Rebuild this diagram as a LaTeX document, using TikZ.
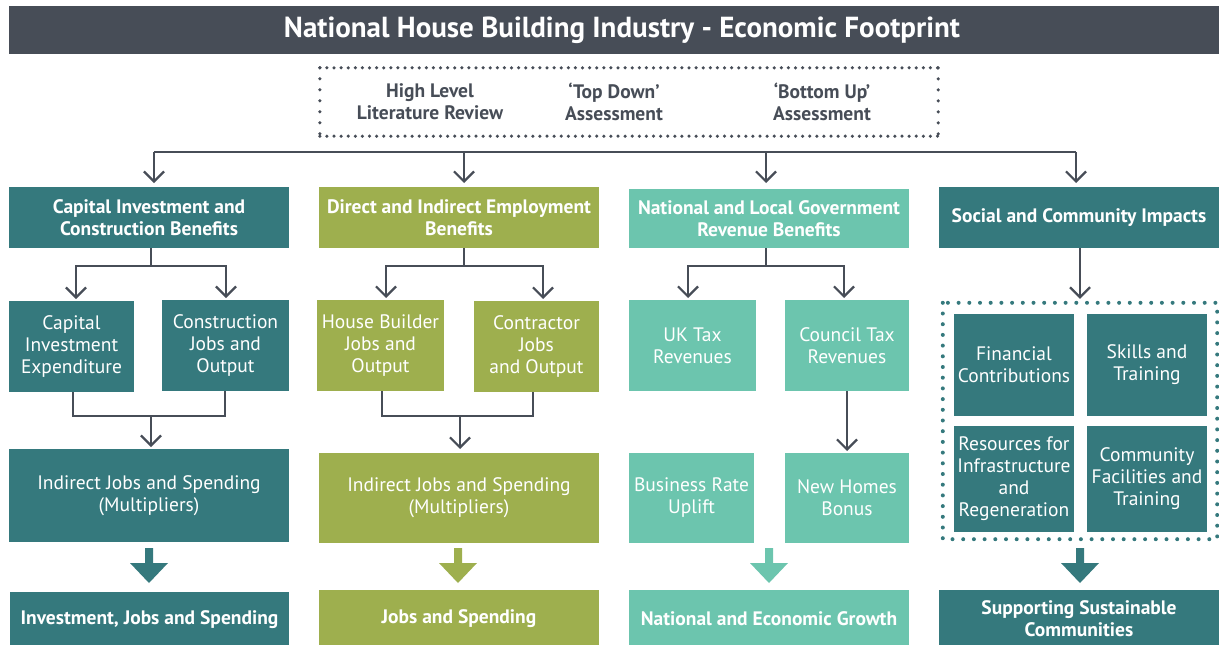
\documentclass[tikz,border=0pt]{standalone}
\usepackage{fontspec}
\setmainfont{PT Sans}
\usetikzlibrary{arrows.meta,calc}
\definecolor{cteal}{HTML}{35797D}
\definecolor{colive}{HTML}{9EAF4E}
\definecolor{cmint}{HTML}{6CC5AE}
\definecolor{cdark}{HTML}{474D57}
\newcommand\blockarrow[2]{\fill[#2] (#1-4,548) -- (#1+4,548) -- (#1+4,563) -- (#1+19,563) -- (#1,583) -- (#1-19,563) -- (#1-4,563) -- cycle;}
\begin{document}
\begin{tikzpicture}[x=1pt,y=-1pt,
  box/.style={inner sep=0pt, outer sep=0pt, align=center, text=white, font=\fontsize{19.5}{22}\selectfont},
  head/.style={box, font=\bfseries\fontsize{19.5}{22}\selectfont},
  srctext/.style={inner sep=0pt, align=center, text=cdark, font=\bfseries\fontsize{19.5}{22}\selectfont},
  conn/.style={draw=cdark, line width=2.2pt},
  arr/.style={conn, -{Straight Barb[length=10pt,width=20pt]}, shorten >=2pt},
  dotgray/.style={draw=cdark, line width=3.5pt, line cap=round},
  dotteal/.style={draw=cteal, line width=4pt, line cap=round, dash pattern=on 0pt off 10.7pt}
]
\useasboundingbox (0,0) rectangle (1219,645);

% title
\node[box, fill=cdark, minimum width=1226, minimum height=48, font=\bfseries\fontsize{29}{32}\selectfont] (title) at (622,30) {National House Building Industry - Economic Footprint};

% top dotted source box
\node[minimum width=618, minimum height=68, inner sep=0pt] (src) at (629,102) {};
\draw[dotgray, dash pattern=on 0pt off 7.1pt] (src.north west) -- (src.north east);
\draw[dotgray, dash pattern=on 0pt off 7.1pt] (src.south west) -- (src.south east);
\draw[dotgray, dash pattern=on 0pt off 11pt] (src.north west) -- (src.south west);
\draw[dotgray, dash pattern=on 0pt off 11pt] (src.north east) -- (src.south east);
\node[srctext] (s1) at (430,102) {High Level\\Literature Review};
\node[srctext] (s2) at (614,102) {‘Top Down’\\Assessment};
\node[srctext] (s3) at (822,102) {‘Bottom Up’\\Assessment};

% header row
\node[head, fill=cteal, minimum width=280, minimum height=61] (h1) at (149,217.5) {Capital Investment and\\Construction Benefits};
\node[head, fill=colive, minimum width=280, minimum height=61] (h2) at (459,217.5) {Direct and Indirect Employment\\Benefits};
\node[head, fill=cmint, minimum width=280, minimum height=59] (h3) at (769,218.5) {National and Local Government\\Revenue Benefits};
\node[head, fill=cteal, minimum width=280, minimum height=61] (h4) at (1079,217.5) {Social and Community Impacts};

% bus
\coordinate (b1) at (154,152);
\coordinate (b2) at (464,152);
\coordinate (b3) at (766,152);
\coordinate (b4) at (1076,152);
\draw[conn] (b1) -- (b4);
\draw[arr, shorten >=4pt] (b1) -- (b1 |- h1.north);
\draw[arr, shorten >=4pt] (b2) -- (b2 |- h2.north);
\draw[arr, shorten >=6pt] (b3) -- (b3 |- h3.north);
\draw[arr, shorten >=4pt] (b4) -- (b4 |- h4.north);

% column 1
\node[box, fill=cteal, minimum width=125, minimum height=91] (a1) at (71.5,346.5) {Capital\\Investment\\Expenditure};
\node[box, fill=cteal, minimum width=127, minimum height=91] (c1b) at (225.5,345.5) {Construction\\Jobs and\\Output};
\node[box, fill=cteal, minimum width=280, minimum height=93] (i1) at (149,495.5) {Indirect Jobs and Spending\\(Multipliers)};
\node[head, fill=cteal, minimum width=279, minimum height=56] (d1) at (149.5,620) {Investment, Jobs and Spending};
\coordinate (j1) at (151,266);
\draw[arr] (h1.south -| j1) -- (j1) -| ([xshift=4.5pt]a1.north);
\draw[arr] (j1) -| ([xshift=0.5pt]c1b.north);
\coordinate (m1) at (151,416);
\draw[conn] ([xshift=1.5pt]a1.south) |- (m1) -| ([xshift=-0.5pt]c1b.south);
\draw[arr] (m1) -- (m1 |- i1.north);
\blockarrow{149}{cteal}

% column 2
\node[box, fill=colive, minimum width=127, minimum height=91] (a2) at (380.5,345.5) {House Builder\\Jobs and\\Output};
\node[box, fill=colive, minimum width=125, minimum height=91] (c2b) at (536.5,346.5) {Contractor\\Jobs\\and Output};
\node[box, fill=colive, minimum width=280, minimum height=90] (i2) at (459,498) {Indirect Jobs and Spending\\(Multipliers)};
\node[head, fill=colive, minimum width=280, minimum height=58] (d2) at (459,619) {Jobs and Spending};
\coordinate (j2) at (464,266);
\draw[arr] (h2.south -| j2) -- (j2) -| ([xshift=5.5pt]a2.north);
\draw[arr] (j2) -| ([xshift=6.5pt]c2b.north);
\coordinate (m2) at (460,416);
\draw[conn] ([xshift=1.5pt]a2.south) |- (m2) -| ([xshift=-3.5pt]c2b.south);
\draw[arr, shorten >=4pt] (m2) -- (m2 |- i2.north);
\blockarrow{458}{colive}

% column 3
\node[box, fill=cmint, minimum width=127, minimum height=91] (a3) at (692.5,345.5) {UK Tax\\Revenues};
\node[box, fill=cmint, minimum width=124, minimum height=91] (c3b) at (847,345.5) {Council Tax\\Revenues};
\node[box, fill=cmint, minimum width=125, minimum height=90] (e3) at (691.5,498) {Business Rate\\Uplift};
\node[box, fill=cmint, minimum width=124, minimum height=90] (f3) at (847,498) {New Homes\\Bonus};
\node[head, fill=cmint, minimum width=280, minimum height=58] (d3) at (769,619) {National and Economic Growth};
\coordinate (j3) at (766,266);
\draw[arr] (h3.south -| j3) -- (j3) -| ([xshift=-4.5pt]a3.north);
\draw[arr] (j3) -| ([xshift=-3pt]c3b.north);
\draw[arr] (c3b.south) -- (f3.north);
\blockarrow{769}{cmint}

% column 4
\node[minimum width=274, minimum height=236, inner sep=0pt] (grp) at (1080,421) {};
\draw[dotteal] (grp.north west) rectangle (grp.south east);
\node[box, fill=cteal, minimum width=120, minimum height=102] (g1) at (1014,365) {Financial\\Contributions};
\node[box, fill=cteal, minimum width=120, minimum height=102] (g2) at (1147,365) {Skills and\\Training};
\node[box, fill=cteal, minimum width=120, minimum height=106] (g3) at (1014,479) {Resources for\\Infrastructure\\and\\Regeneration};
\node[box, fill=cteal, minimum width=120, minimum height=106] (g4) at (1147,479) {Community\\Facilities and\\Training};
\node[head, fill=cteal, minimum width=280, minimum height=58] (d4) at (1079,619) {Supporting Sustainable\\Communities};
\draw[arr, shorten >=4pt] (h4.south -| grp.north) -- (grp.north);
\blockarrow{1080}{cteal}
\end{tikzpicture}
\end{document}
